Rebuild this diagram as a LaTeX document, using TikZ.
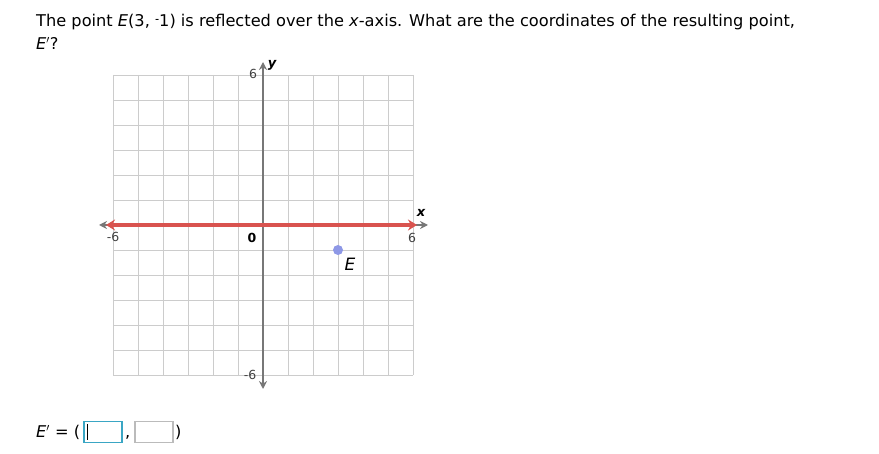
\documentclass[tikz,border=0pt]{standalone}
\usepackage{fontspec}
\setmainfont{DejaVu Sans}
\usetikzlibrary{arrows.meta}
\definecolor{gridc}{HTML}{CCCCCC}
\definecolor{axisc}{HTML}{777777}
\definecolor{redl}{HTML}{D9534F}
\definecolor{ptc}{HTML}{8E98E6}
\definecolor{boxa}{HTML}{3AA6C4}
\definecolor{boxb}{HTML}{BBBBBB}
\tikzset{
  txt/.style={inner sep=0pt, anchor=base west, font=\fontsize{16.2}{18}\selectfont},
  tick/.style={inner sep=0pt, font=\fontsize{12.5}{14}\selectfont, text=black!75},
  ansbox/.style={draw=boxb, line width=1.2pt, minimum width=38pt, minimum height=21pt, inner sep=0pt},
}
\begin{document}
\begin{tikzpicture}[x=1pt,y=-1pt]
\useasboundingbox (0,0) rectangle (879,454);
% question text
\node[txt] (q1) at (36,27) {The point \textit{E}(3, \raisebox{0.45ex}{\scalebox{0.7}[0.8]{-}}1) is reflected over the \textit{x}-axis. What are the coordinates of the resulting point,};
\node[txt] (q2) at (36,50) {\textit{E}$'$?};
% grid
\foreach \k in {0,...,12}{
  \draw[gridc, line width=0.8pt] (113+25*\k,75) -- (113+25*\k,375);
  \draw[gridc, line width=0.8pt] (113,75+25*\k) -- (413,75+25*\k);
}
% axes
\coordinate (ytop) at (263,62);
\coordinate (ybot) at (263,389);
\coordinate (xl) at (99,225);
\coordinate (xr) at (428,225);
\draw[axisc, line width=2.4pt, {Stealth[length=8pt,width=8pt]}-{Stealth[length=8pt,width=8pt]}] (ybot) -- (ytop);
\draw[axisc, line width=2.4pt, {Stealth[length=8pt,width=8pt]}-{Stealth[length=8pt,width=8pt]}] (xl) -- (xr);
% red line
\coordinate (rl) at (106,225);
\coordinate (rr) at (417,225);
\draw[redl, line width=3.8pt, {Stealth[length=9pt,width=11pt]}-{Stealth[length=9pt,width=11pt]}] (rl) -- (rr);
% labels
\node[tick, font=\fontsize{13}{15}\selectfont\bfseries\itshape, text=black] (ylab) at (272,65) {y};
\node[tick, font=\fontsize{13}{15}\selectfont\bfseries\itshape, text=black] (xlab) at (421,213) {x};
\node[tick] (y6) at (253,74) {6};
\node[tick] (xm6) at (113,237) {-6};
\node[tick, font=\fontsize{12.5}{14}\selectfont\bfseries, text=black] (o) at (252,238) {0};
\node[tick] (x6) at (412,238) {6};
\node[tick] (ym6) at (250,375) {-6};
% point E
\fill[ptc] (338,250) circle (5pt);
\node[inner sep=0pt, font=\fontsize{17}{19}\selectfont\itshape] (elab) at (350,264) {E};
% answer
\node[txt] (ans) at (36,438) {\textit{E}$'$ = (};
\node[ansbox, draw=boxa] (b1) at (103,432) {};
\draw[black, line width=1pt] ([xshift=4pt,yshift=-3pt]b1.north west) -- ([xshift=4pt,yshift=3pt]b1.south west);
\node[txt] (comma) at (125,438) {,};
\node[ansbox] (b2) at (154,432) {};
\node[txt] (cp) at (175,438) {)};
\end{tikzpicture}
\end{document}
